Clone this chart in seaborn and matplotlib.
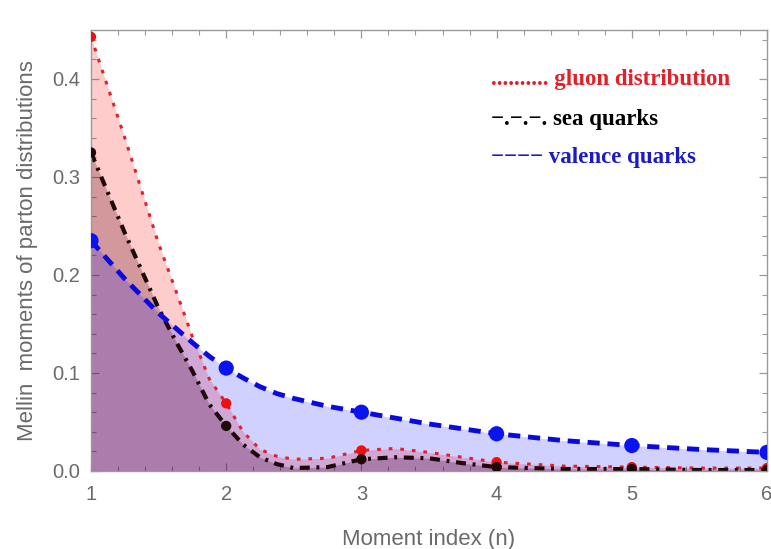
import matplotlib
matplotlib.use("Agg")
import matplotlib.pyplot as plt
import seaborn as sns
import pandas as pd
from matplotlib.ticker import MultipleLocator, FormatStrFormatter

# Mellin moments at integer n
moment_n = [1, 2, 3, 4, 5, 6]
gluon_moments = [0.443, 0.069, 0.021, 0.009, 0.004, 0.003]
sea_moments = [0.325, 0.046, 0.012, 0.004, 0.002, 0.001]
valence_moments = [0.235, 0.105, 0.060, 0.038, 0.026, 0.019]

# Curves
curve_n = [1.0, 1.25, 1.5, 1.625, 1.75, 1.875, 2.0, 2.125, 2.25, 2.375, 2.5,
           2.75, 3.0, 3.25, 3.5, 3.75, 4.0, 4.5, 5.0, 5.5, 6.0]
gluon_curve = [0.443, 0.340, 0.232, 0.185, 0.137, 0.094, 0.069, 0.040, 0.022, 0.015, 0.012,
               0.013, 0.021, 0.023, 0.019, 0.014, 0.009, 0.005, 0.004, 0.003, 0.003]
sea_curve = [0.325, 0.243, 0.166, 0.133, 0.102, 0.068, 0.046, 0.027, 0.014, 0.007, 0.003,
             0.004, 0.012, 0.014, 0.013, 0.008, 0.004, 0.002, 0.002, 0.001, 0.001]
valence_curve = [0.235, 0.196, 0.161, 0.146, 0.131, 0.117, 0.105, 0.095, 0.086, 0.079, 0.074,
                 0.066, 0.060, 0.054, 0.048, 0.043, 0.038, 0.031, 0.026, 0.022, 0.019]

legend_labels = [".......... gluon distribution", "\u2212.\u2212.\u2212. sea quarks",
                 "\u2212\u2212\u2212\u2212 valence quarks"]

red = "#e0202a"
black = "#1e0808"
blue = "#0a0ae0"

sns.set_theme(style="ticks")
plt.rcParams['font.family'] = ['Liberation Sans', 'DejaVu Sans']

fig = plt.figure(figsize=(7.71, 5.49), dpi=100)
ax = fig.add_axes([91/771, 78/549, 676/771, 441/549])

curves = pd.DataFrame({"n": curve_n, "gluon": gluon_curve, "sea": sea_curve, "valence": valence_curve})
points = pd.DataFrame({"n": moment_n, "gluon": gluon_moments, "sea": sea_moments, "valence": valence_moments})

# fills
ax.fill_between(curves["n"], 0, curves["gluon"], color=(1, 0, 0), alpha=0.2, lw=0)
ax.fill_between(curves["n"], 0, curves["sea"], color=(0.3, 0, 0.05), alpha=0.25, lw=0)
ax.fill_between(curves["n"], 0, curves["valence"], color=(0, 0, 1), alpha=0.18, lw=0)

# lines
sns.lineplot(data=curves, x="n", y="gluon", color=red, lw=2.2, linestyle=(0, (1.2, 2.6)),
             estimator=None, sort=False, ax=ax)
sns.lineplot(data=curves, x="n", y="sea", color=black, lw=3.0, linestyle=(0, (2.4, 1.6, 0.7, 1.6)),
             estimator=None, sort=False, ax=ax)
sns.lineplot(data=curves, x="n", y="valence", color=blue, lw=3.5, linestyle=(0, (2.5, 1.6)),
             estimator=None, sort=False, ax=ax)

# points
sns.scatterplot(data=points, x="n", y="gluon", color="#ee1010", s=55, edgecolor="none", ax=ax, zorder=5)
sns.scatterplot(data=points, x="n", y="sea", color=black, s=55, edgecolor="none", ax=ax, zorder=5)
sns.scatterplot(data=points, x="n", y="valence", color="#0a14f0", s=120, edgecolor="none", ax=ax, zorder=5)

ax.set_xlim(1, 6)
ax.set_ylim(0, 0.45)
ax.xaxis.set_major_locator(MultipleLocator(1))
ax.xaxis.set_minor_locator(MultipleLocator(0.2))
ax.yaxis.set_major_locator(MultipleLocator(0.1))
ax.yaxis.set_minor_locator(MultipleLocator(0.02))
ax.yaxis.set_major_formatter(FormatStrFormatter("%.1f"))

frame_col = "#9a9a9a"
for sp in ax.spines.values():
    sp.set_color(frame_col)
    sp.set_linewidth(1.0)
    sp.set_visible(True)
ax.tick_params(which="both", direction="in", top=True, right=True, color=frame_col,
               labelcolor="#6a6a6a", labelsize=14.5)
ax.tick_params(which="major", length=6, width=0.9)
ax.tick_params(which="minor", length=3.5, width=0.8)
ax.tick_params(axis="x", pad=10)
ax.tick_params(axis="y", pad=8)

ax.set_xlabel("Moment index (n)", fontsize=16, color="#6a6a6a", labelpad=18)
ax.set_ylabel("Mellin  moments of parton distributions", fontsize=16, color="#6a6a6a", labelpad=10)

serif = ['Liberation Serif', 'DejaVu Serif']
ax.text(0.592, 0.887, legend_labels[0], transform=ax.transAxes, color=red, fontsize=16.5,
        fontweight="bold", family=serif, va="center", ha="left")
ax.text(0.592, 0.796, legend_labels[1], transform=ax.transAxes, color="black", fontsize=16.5,
        fontweight="bold", family=serif, va="center", ha="left")
ax.text(0.592, 0.710, legend_labels[2], transform=ax.transAxes, color="#1a1ac8", fontsize=16.5,
        fontweight="bold", family=serif, va="center", ha="left")

fig.savefig("out.png", dpi=100, facecolor="white")
